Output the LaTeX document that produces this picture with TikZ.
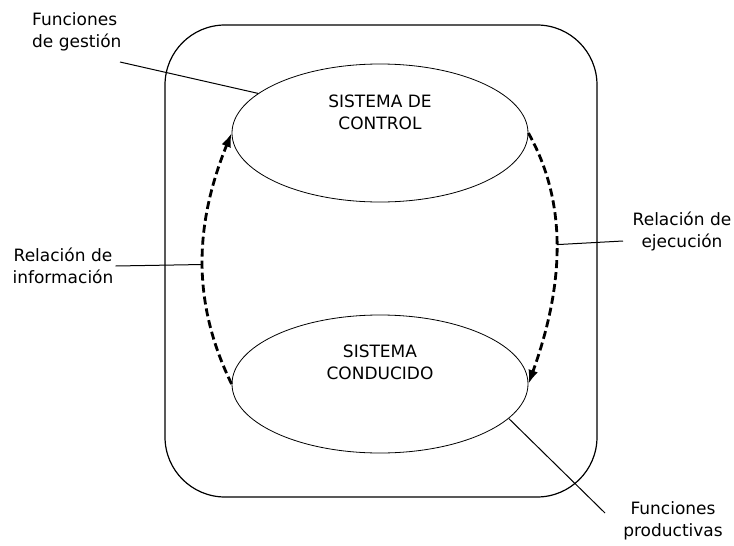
\documentclass[tikz,border=0pt]{standalone}
\usepackage{fontspec}
\setmainfont{DejaVu Sans}
\usepackage{tikz}
\usetikzlibrary{shapes.geometric,arrows.meta}
\tikzstyle{sistema} = [ellipse, draw, line width=0.8pt, minimum width=296pt,
    minimum height=138pt, inner sep=0pt]
\tikzstyle{etiqueta} = [inner sep=2pt, align=center]
\tikzstyle{flujo} = [draw, -{Latex[length=14pt,width=10pt]}, line width=2.8pt,
    dash pattern=on 8pt off 4pt]
\tikzstyle{guia} = [draw, line width=1pt]

\begin{document}
\begin{tikzpicture}[x=1pt, y=-1pt, font=\fontsize{17}{22}\selectfont]
\useasboundingbox (0,0) rectangle (734,546);

\draw [line width=1.2pt, rounded corners=60pt] (165,25) rectangle (597,497);

\node [sistema] (control) at (380,133) {};
\node [sistema] (conducido) at (380,384) {};
\node [etiqueta] (controlT) at (380,112) {SISTEMA DE\\CONTROL};
\node [etiqueta] (conducidoT) at (380,362) {SISTEMA\\CONDUCIDO};

\node [etiqueta, anchor=west, align=left] (gestion) at (30,32) {Funciones\\de gestión};
\node [etiqueta] (info) at (63,266) {Relación de\\información};
\node [etiqueta] (ejec) at (682,231) {Relación de\\ejecución};
\node [etiqueta] (product) at (673,521) {Funciones\\productivas};

\coordinate (gestionP) at (120,62);
\coordinate (ejecL) at (623,241);
\coordinate (productP) at (605,513);

\path [flujo] (conducido.west) .. controls (193,305) and (193,228) .. coordinate[pos=0.5] (infoP) (control.west);
\path [flujo] (control.east) .. controls (566,200) and (566,280) .. coordinate[pos=0.5] (ejecP) (conducido.east);

\path [guia] (gestionP) -- (control.162);
\path [guia] (info.east) -- (infoP);
\path [guia] (ejecL) -- (ejecP);
\path [guia] (productP) -- (conducido.-15);
\end{tikzpicture}
\end{document}
